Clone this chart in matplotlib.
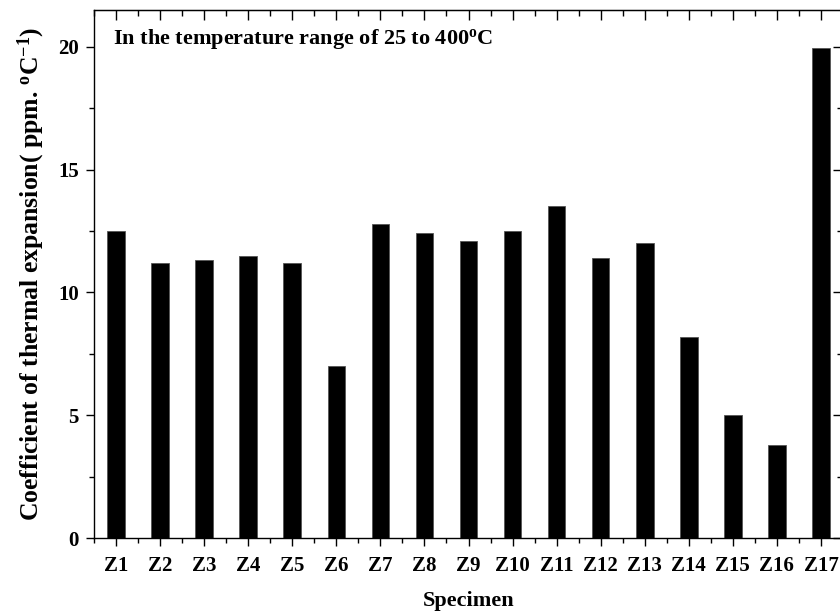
import matplotlib
matplotlib.use("Agg")
import matplotlib.pyplot as plt
from matplotlib.ticker import MultipleLocator

specimens = ["Z1", "Z2", "Z3", "Z4", "Z5", "Z6", "Z7", "Z8", "Z9", "Z10",
             "Z11", "Z12", "Z13", "Z14", "Z15", "Z16", "Z17"]
cte = [12.5, 11.2, 11.3, 11.5, 11.2, 7.0, 12.8, 12.4, 12.1, 12.5,
       13.5, 11.4, 12.0, 8.2, 5.0, 3.8, 19.95]

plt.rcParams['font.family'] = ['Liberation Serif', 'DejaVu Serif']
plt.rcParams['font.weight'] = 'bold'
plt.rcParams['mathtext.fontset'] = 'custom'
plt.rcParams['mathtext.rm'] = 'Liberation Serif:bold'
plt.rcParams['mathtext.bf'] = 'Liberation Serif:bold'
plt.rcParams['mathtext.default'] = 'bf'

fig = plt.figure(figsize=(8.4, 6.15), dpi=100)
ax = fig.add_axes([94/840, 77/615, 749/840, 528/615])

x = list(range(1, len(specimens) + 1))
ax.bar(x, cte, width=0.4, color='black', edgecolor='#555555', linewidth=0.6)

ax.set_xlim(0.5, 17.5)
ax.set_ylim(0, 21.5)
ax.set_xticks(x)
ax.set_xticklabels(specimens)
ax.xaxis.set_minor_locator(MultipleLocator(0.5))
ax.yaxis.set_major_locator(MultipleLocator(5))
ax.yaxis.set_minor_locator(MultipleLocator(2.5))

for s in ax.spines.values():
    s.set_linewidth(1.0)

ax.tick_params(axis='both', which='major', direction='out', length=6, width=1,
               labelsize=15, pad=5)
ax.tick_params(axis='x', which='major', pad=7)
ax.tick_params(axis='both', which='minor', direction='out', length=3.5, width=1)
for lab in ax.get_xticklabels() + ax.get_yticklabels():
    lab.set_fontweight('bold')

# mirrored ticks on top and right, pointing inward
axt = ax.secondary_xaxis('top')
axt.set_xticks(x)
axt.xaxis.set_minor_locator(MultipleLocator(0.5))
axt.tick_params(which='major', direction='in', length=7, width=1, labeltop=False)
axt.tick_params(which='minor', direction='in', length=4, width=1)
axr = ax.secondary_yaxis('right')
axr.yaxis.set_major_locator(MultipleLocator(5))
axr.yaxis.set_minor_locator(MultipleLocator(2.5))
axr.tick_params(which='major', direction='in', length=7, width=1, labelright=False)
axr.tick_params(which='minor', direction='in', length=4, width=1)

ax.set_xlabel("Specimen", fontsize=16, fontweight='bold', labelpad=11)
ax.set_ylabel(r"Coefficient of thermal expansion( ppm. $^{\mathrm{o}}$C$^{-1}$)",
              fontsize=18.5, fontweight='bold', labelpad=8)

ax.text(0.025, 0.968, r"In the temperature range of 25 to 400$^{\mathrm{o}}$C",
        transform=ax.transAxes, ha='left', va='top', fontsize=16,
        fontweight='bold')

fig.savefig("out.png", dpi=100)
